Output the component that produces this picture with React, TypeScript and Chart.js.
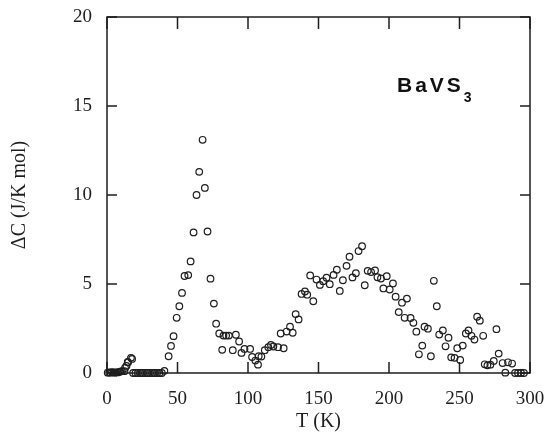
import React, { useEffect, useRef } from "react";
import { Chart, registerables } from "chart.js";

Chart.register(...registerables);

// Temperature (K)
const temperatures = [
  0.5, 1.5, 2.5, 3.5, 4.5, 5.5, 6.5, 7.5, 8.5, 9.5, 10.5,
  12.4, 12.8, 13.8, 14.7, 15.0, 17.0, 17.8,
  18.5, 20.2, 21.9, 23.6, 25.3, 27.0, 28.7, 30.4, 32.1, 33.8, 35.5, 37.2, 38.9, 40.7,
  43.7, 45.4, 47.2, 49.4, 51.3, 53.2, 55.0, 57.6, 59.3, 61.4, 63.5, 65.4, 67.8, 69.4,
  71.3, 73.4, 75.8, 77.4, 79.6, 81.7, 82.6, 84.5, 86.4, 89.2, 91.4, 93.7, 95.4, 97.5,
  101.5, 102.9, 105.2, 107.1, 107.6, 109.5, 111.9, 114.4, 116.3, 118.0, 121.3, 123.2,
  125.3, 127.4, 129.8, 131.7, 133.8, 135.9, 138.0, 140.4, 142.0, 144.1, 146.3, 148.6,
  151.0, 153.3, 155.7, 158.0, 160.7, 163.0, 165.1, 167.3, 169.9, 172.0, 174.1, 176.5,
  178.4, 180.9, 182.8, 184.9, 187.3, 190.1, 191.8, 194.3, 196.0, 198.4, 200.5, 202.8,
  204.7, 206.9, 209.2, 211.1, 212.7, 215.3, 217.3, 219.4, 221.2, 223.6, 225.2, 227.6,
  229.7, 231.8, 233.9, 235.6, 238.2, 240.1, 242.2, 244.1, 246.5, 248.4, 250.5, 252.3,
  254.5, 256.4, 258.5, 260.6, 262.5, 264.4, 266.8, 267.9, 269.8, 271.9, 274.3, 276.2,
  277.8, 280.6, 282.5, 284.4, 287.3, 289.4, 291.5, 293.6, 295.7,
];

// Excess specific heat ΔC (J/K mol)
const deltaC = [
  0.02, 0.03, 0.02, 0.05, 0.03, 0.02, 0.04, 0.03, 0.05, 0.08, 0.1,
  0.1, 0.28, 0.4, 0.62, 0.6, 0.85, 0.79,
  0.0, 0.0, 0.0, 0.0, 0.0, 0.0, 0.0, 0.0, 0.0, 0.0, 0.0, 0.0, 0.0, 0.12,
  0.94, 1.52, 2.07, 3.1, 3.75, 4.5, 5.45, 5.5, 6.27, 7.9, 10.0, 11.3, 13.1, 10.4,
  7.95, 5.3, 3.9, 2.77, 2.22, 1.3, 2.1, 2.1, 2.1, 1.28, 2.15, 1.77, 1.13, 1.35,
  1.35, 0.9, 0.7, 0.47, 0.94, 0.92, 1.28, 1.45, 1.58, 1.49, 1.45, 2.22,
  1.39, 2.33, 2.6, 2.26, 3.31, 3.01, 4.44, 4.58, 4.4, 5.48, 4.03, 5.25,
  4.95, 5.16, 5.35, 4.99, 5.51, 5.8, 4.61, 5.21, 6.02, 6.53, 5.37, 5.61,
  6.85, 7.12, 4.93, 5.74, 5.67, 5.76, 5.38, 5.31, 4.75, 5.44, 4.69, 5.03,
  4.29, 3.42, 3.95, 3.1, 4.18, 3.09, 2.82, 2.32, 1.05, 1.54, 2.6, 2.49,
  0.94, 5.18, 3.75, 2.16, 2.39, 1.5, 1.98, 0.88, 0.85, 1.39, 0.73, 1.54,
  2.22, 2.39, 2.09, 1.88, 3.16, 2.94, 2.09, 0.49, 0.43, 0.47, 0.68, 2.46,
  1.09, 0.56, 0.02, 0.6, 0.53, 0.0, 0.0, 0.0, 0.0,
];

const xTicks = [0, 50, 100, 150, 200, 250, 300];
const yTicks = [0, 5, 10, 15, 20];
const xTitle = "T (K)";
const yTitle = "ΔC (J/K mol)";
const compoundMain = "BaVS";
const compoundSub = "3";

const INK = "#1e1e1e";
const SERIF = "'Liberation Serif', 'Times New Roman', serif";

const framePlugin = {
  id: "frameTicks",
  afterDatasetsDraw(chart: any) {
    const { ctx, chartArea: a, scales } = chart;
    const x = scales.x;
    const y = scales.y;
    ctx.save();
    ctx.strokeStyle = INK;
    ctx.lineWidth = 1.5;
    ctx.strokeRect(a.left, a.top, a.right - a.left, a.bottom - a.top);
    ctx.beginPath();
    for (const v of xTicks) {
      const px = x.getPixelForValue(v);
      ctx.moveTo(px, a.bottom);
      ctx.lineTo(px, a.bottom - 11);
      ctx.moveTo(px, a.top);
      ctx.lineTo(px, a.top + 12);
    }
    for (const v of yTicks) {
      const py = y.getPixelForValue(v);
      ctx.moveTo(a.left, py);
      ctx.lineTo(a.left + 10, py);
      ctx.moveTo(a.right, py);
      ctx.lineTo(a.right - 10, py);
    }
    ctx.stroke();

    // compound label
    ctx.fillStyle = "#111";
    ctx.textBaseline = "alphabetic";
    ctx.textAlign = "left";
    ctx.font = "bold 21px 'Liberation Sans', Arial, sans-serif";
    try {
      (ctx as any).letterSpacing = "3px";
    } catch (e) {}
    const lx = a.right - 133;
    const ly = a.top + 75;
    ctx.fillText(compoundMain, lx, ly);
    const w = ctx.measureText(compoundMain).width;
    ctx.font = "bold 14px 'Liberation Sans', Arial, sans-serif";
    try {
      (ctx as any).letterSpacing = "0px";
    } catch (e) {}
    ctx.fillText(compoundSub, lx + w, ly + 10);
    ctx.restore();
  },
};

export default function App() {
  const ref = useRef<HTMLCanvasElement | null>(null);

  useEffect(() => {
    if (!ref.current) return;
    const points = temperatures.map((t, i) => ({ x: t, y: deltaC[i] }));
    const chart = new Chart(ref.current, {
      type: "scatter",
      data: {
        datasets: [
          {
            data: points,
            pointStyle: "circle",
            pointRadius: 3.3,
            pointBorderWidth: 1.2,
            borderColor: INK,
            backgroundColor: "rgba(0,0,0,0)",
            pointBackgroundColor: "rgba(0,0,0,0)",
            pointBorderColor: INK,
            clip: false as any,
          },
        ],
      },
      options: {
        animation: false,
        responsive: false,
        events: [],
        layout: { padding: { top: 17, right: 20, left: 0, bottom: 0 } },
        plugins: {
          legend: { display: false },
          tooltip: { enabled: false },
        },
        scales: {
          x: {
            type: "linear",
            min: 0,
            max: 300,
            afterBuildTicks: (s: any) => {
              s.ticks = xTicks.map((v) => ({ value: v }));
            },
            afterFit: (s: any) => {
              s.height = 71;
              s.paddingLeft = 0;
              s.paddingRight = 0;
            },
            grid: { display: false, drawTicks: false },
            border: { display: false },
            ticks: {
              color: INK,
              padding: 15,
              font: { family: SERIF, size: 19 },
            },
            title: {
              display: true,
              text: xTitle,
              color: INK,
              font: { family: SERIF, size: 20 },
              padding: { top: 0, bottom: 10 },
            },
          },
          y: {
            type: "linear",
            min: 0,
            max: 20,
            afterBuildTicks: (s: any) => {
              s.ticks = yTicks.map((v) => ({ value: v }));
            },
            afterFit: (s: any) => {
              s.width = 107;
              s.paddingTop = 0;
              s.paddingBottom = 0;
            },
            grid: { display: false, drawTicks: false },
            border: { display: false },
            ticks: {
              color: INK,
              padding: 15,
              font: { family: SERIF, size: 19 },
            },
            title: {
              display: true,
              text: yTitle,
              color: INK,
              font: { family: SERIF, size: 20 },
              padding: { top: 8, bottom: 0 },
            },
          },
        },
      },
      plugins: [framePlugin],
    });
    return () => chart.destroy();
  }, []);

  return (
    <div
      style={{
        position: "fixed",
        left: 0,
        top: 0,
        width: 550,
        height: 444,
        background: "#fff",
      }}
    >
      <canvas ref={ref} width={550} height={444} style={{ width: 550, height: 444 }} />
    </div>
  );
}
